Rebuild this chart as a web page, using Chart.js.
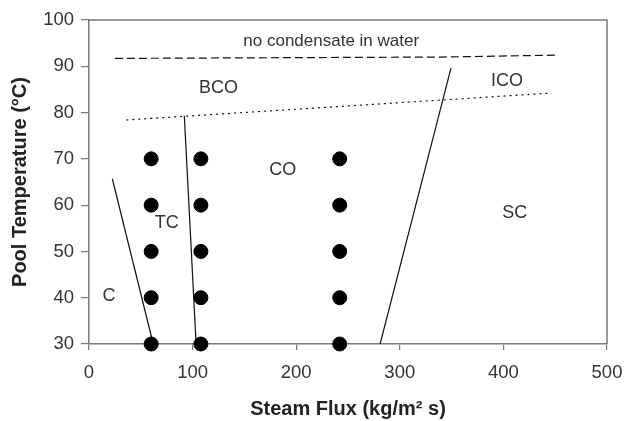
<!DOCTYPE html>
<html>
<head>
<meta charset="utf-8">
<script src="https://cdn.jsdelivr.net/npm/chart.js@4/dist/chart.umd.min.js"></script>
<style>
  html, body { margin: 0; padding: 0; background: #fff; }
  #wrap { width: 624px; height: 421px; }
</style>
</head>
<body>
<div id="wrap"><canvas id="regimeMap" width="624" height="421"></canvas></div>
<script>
// experiment grid
const fluxColumns = [60, 108, 242];
const tempLevels = [30, 40, 50, 60, 70];

// regime boundaries (steam flux, pool temperature)
const cBoundX = [22.5, 62];
const cBoundY = [65.7, 30];
const tcBoundX = [92, 103.4];
const tcBoundY = [79.3, 30];
const scBoundX = [281, 349.4];
const scBoundY = [30, 89.6];
const noCondX = [25, 340, 450];
const noCondY = [91.7, 92.0, 92.4];
const bcoX = [36, 445];
const bcoY = [78.4, 84.2];

// region labels
const regionNames = ['no condensate in water', 'BCO', 'ICO', 'CO', 'TC', 'C', 'SC'];
const regionX = [233.8, 124.9, 403.5, 187, 75, 19.3, 411];
const regionY = [95.3, 85.2, 86.9, 67.5, 56.2, 40.4, 58.2];

const xTicks = [0, 100, 200, 300, 400, 500];
const yTicks = [30, 40, 50, 60, 70, 80, 90, 100];

const FONT = "'Liberation Sans', Arial, sans-serif";
const axisGray = '#7a7a7a';
const textColor = '#333';

function pairs(xs, ys) {
    return xs.map((x, i) => ({ x: x, y: ys[i] }));
}

const testPoints = [];
fluxColumns.forEach(x => tempLevels.forEach(y => testPoints.push({ x: x, y: y })));

function boundary(xs, ys, dash) {
    return {
        data: pairs(xs, ys),
        showLine: true,
        borderColor: '#111',
        borderWidth: 1.2,
        borderDash: dash || [],
        pointRadius: 0,
        pointHoverRadius: 0,
        fill: false,
    };
}

const frame = {
    id: 'frame',
    beforeDatasetsDraw(chart) {
        const { ctx, chartArea: a } = chart;
        ctx.save();
        ctx.strokeStyle = axisGray;
        ctx.lineWidth = 1.5;
        ctx.beginPath();
        ctx.moveTo(a.left, a.top);
        ctx.lineTo(a.right, a.top);
        ctx.lineTo(a.right, a.bottom);
        ctx.stroke();
        ctx.restore();
    },
};

const regionLabels = {
    id: 'regionLabels',
    afterDatasetsDraw(chart) {
        const { ctx, scales } = chart;
        ctx.save();
        ctx.fillStyle = textColor;
        ctx.textAlign = 'center';
        ctx.textBaseline = 'middle';
        regionNames.forEach((name, i) => {
            ctx.font = (i === 0 ? '17px ' : '18px ') + FONT;
            ctx.fillText(name, scales.x.getPixelForValue(regionX[i]), scales.y.getPixelForValue(regionY[i]));
        });
        ctx.restore();
    },
};

new Chart(document.getElementById('regimeMap'), {
    type: 'scatter',
    data: {
        datasets: [
            {
                data: testPoints,
                backgroundColor: '#000',
                borderColor: '#000',
                pointRadius: 7,
                pointHoverRadius: 7,
                clip: false,
            },
            boundary(cBoundX, cBoundY),
            boundary(tcBoundX, tcBoundY),
            boundary(scBoundX, scBoundY),
            boundary(noCondX, noCondY, [8, 4]),
            boundary(bcoX, bcoY, [2, 4]),
        ],
    },
    options: {
        responsive: false,
        animation: false,
        devicePixelRatio: 1,
        layout: { padding: { left: 0, top: 20, right: 17, bottom: 0 } },
        plugins: {
            legend: { display: false },
            tooltip: { enabled: false },
        },
        scales: {
            x: {
                type: 'linear',
                min: 0,
                max: 500,
                afterBuildTicks: s => { s.ticks = xTicks.map(v => ({ value: v })); },
                afterFit: s => { s.height = 77; s.paddingLeft = 0; s.paddingRight = 0; },
                border: { color: axisGray, width: 1.5 },
                grid: { drawOnChartArea: false, tickLength: 6, color: axisGray, lineWidth: 1.2 },
                ticks: { color: textColor, padding: 12, font: { family: FONT, size: 18.5 } },
                title: {
                    display: true,
                    text: 'Steam Flux (kg/m² s)',
                    color: '#222',
                    padding: { top: 0, bottom: 0 },
                    font: { family: FONT, size: 20, weight: 'bold' },
                },
            },
            y: {
                type: 'linear',
                min: 30,
                max: 100,
                afterBuildTicks: s => { s.ticks = yTicks.map(v => ({ value: v })); },
                afterFit: s => { s.width = 89; s.paddingTop = 0; s.paddingBottom = 0; },
                border: { color: axisGray, width: 1.5 },
                grid: { drawOnChartArea: false, tickLength: 8, color: axisGray, lineWidth: 1.2 },
                ticks: { color: textColor, padding: 7, font: { family: FONT, size: 18.5 } },
                title: {
                    display: true,
                    text: 'Pool Temperature (°C)',
                    color: '#222',
                    padding: { top: 8, bottom: 0 },
                    font: { family: FONT, size: 20, weight: 'bold' },
                },
            },
        },
    },
    plugins: [frame, regionLabels],
});
</script>
</body>
</html>
